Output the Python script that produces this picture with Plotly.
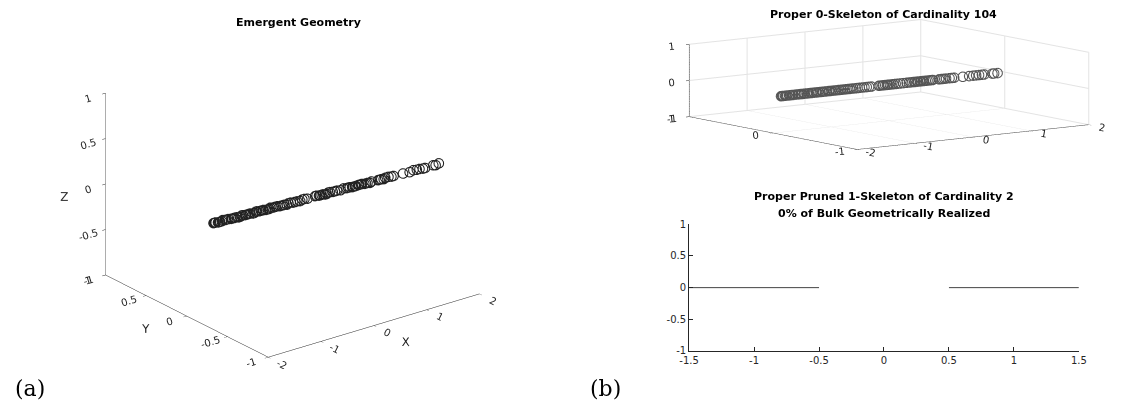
import math
import plotly.graph_objects as go

# ---------------- data ----------------
# x-coordinates of the 104 vertices (0-skeleton)
x_pts = [-1.87, -1.85, -1.83, -1.80, -1.78, -1.76, -1.73, -1.71, -1.68, -1.66,
         -1.62, -1.58, -1.56, -1.53, -1.51, -1.48, -1.46, -1.43, -1.40, -1.38,
         -1.35, -1.33, -1.30, -1.27, -1.25, -1.22, -1.19, -1.16, -1.14, -1.11,
         -1.08, -1.05, -1.03, -1.00, -0.97, -0.94, -0.92, -0.89, -0.86, -0.83,
         -0.80, -0.77, -0.74, -0.71, -0.68, -0.65, -0.62, -0.58, -0.55, -0.51,
         -0.47, -0.43, -0.39, -0.35, -0.31,
         -0.18, -0.15, -0.12, -0.10, -0.07, -0.04, -0.02, 0.01, 0.04, 0.07,
         0.11, 0.15, 0.19, 0.24, 0.30, 0.34, 0.37, 0.40, 0.43, 0.45,
         0.48, 0.50, 0.53, 0.55, 0.58, 0.60, 0.63, 0.66, 0.69, 0.72, 0.75,
         0.86, 0.89, 0.92, 0.95, 0.98, 1.04, 1.08, 1.12,
         1.27, 1.38, 1.45, 1.50, 1.55, 1.60, 1.64,
         1.78, 1.81, 1.87]

# emergent geometry (panel a): y and z coordinates of the same vertices
y_emg = [-0.24, -0.24, -0.24, -0.25, -0.25, -0.25, -0.25, -0.25, -0.26, -0.26,
         -0.26, -0.27, -0.27, -0.27, -0.27, -0.27, -0.28, -0.28, -0.28, -0.28,
         -0.29, -0.29, -0.29, -0.29, -0.29, -0.30, -0.30, -0.30, -0.30, -0.31,
         -0.31, -0.31, -0.31, -0.32, -0.32, -0.32, -0.32, -0.33, -0.33, -0.33,
         -0.33, -0.34, -0.34, -0.34, -0.34, -0.35, -0.35, -0.35, -0.36, -0.36,
         -0.36, -0.37, -0.37, -0.37, -0.38,
         -0.39, -0.39, -0.40, -0.40, -0.40, -0.40, -0.41, -0.41, -0.41, -0.41,
         -0.42, -0.42, -0.42, -0.43, -0.43, -0.44, -0.44, -0.44, -0.45, -0.45,
         -0.45, -0.45, -0.46, -0.46, -0.46, -0.46, -0.47, -0.47, -0.47, -0.48, -0.48,
         -0.49, -0.49, -0.49, -0.50, -0.50, -0.50, -0.51, -0.51,
         -0.53, -0.54, -0.54, -0.55, -0.55, -0.56, -0.56,
         -0.57, -0.58, -0.58]
z_emg = [0.11, 0.11, 0.11, 0.11, 0.11, 0.11, 0.11, 0.12, 0.12, 0.12,
         0.12, 0.12, 0.12, 0.12, 0.12, 0.12, 0.12, 0.12, 0.13, 0.13,
         0.13, 0.13, 0.13, 0.13, 0.13, 0.13, 0.13, 0.14, 0.14, 0.14,
         0.14, 0.14, 0.14, 0.14, 0.14, 0.14, 0.15, 0.15, 0.15, 0.15,
         0.15, 0.15, 0.15, 0.15, 0.15, 0.15, 0.16, 0.16, 0.16, 0.16,
         0.16, 0.16, 0.17, 0.17, 0.17,
         0.18, 0.18, 0.18, 0.18, 0.18, 0.18, 0.18, 0.18, 0.19, 0.19,
         0.19, 0.19, 0.19, 0.19, 0.20, 0.20, 0.20, 0.20, 0.20, 0.20,
         0.20, 0.20, 0.21, 0.21, 0.21, 0.21, 0.21, 0.21, 0.21, 0.21, 0.22,
         0.22, 0.22, 0.22, 0.22, 0.23, 0.23, 0.23, 0.23,
         0.24, 0.24, 0.25, 0.25, 0.25, 0.25, 0.25,
         0.26, 0.26, 0.27]

# proper 0-skeleton (panel b top): vertices lie on the x-axis
y_skel = [0.0] * len(x_pts)
z_skel = [0.0] * len(x_pts)

# proper pruned 1-skeleton: two edges
edge1_x = [-1.5, -0.5]
edge1_y = [0.0, 0.0]
edge2_x = [0.5, 1.5]
edge2_y = [0.0, 0.0]

# tick values / labels
ticks_x3 = [-2, -1, 0, 1, 2]
ticks_half = [-1, -0.5, 0, 0.5, 1]
ticks_unit = [-1, 0, 1]
ticks_x2 = [-1.5, -1, -0.5, 0, 0.5, 1, 1.5]

# ---------------- styling ----------------
W, H = 1141, 415
TXT = "#262626"
FONT = "DejaVu Sans"


def lab(v):
    return ("%g" % v)


def eye(az_deg, el_deg, r):
    az, el = math.radians(az_deg), math.radians(el_deg)
    return dict(x=r * math.sin(az) * math.cos(el),
                y=-r * math.cos(az) * math.cos(el),
                z=r * math.sin(el))


def ax3(rng, tv, title, grid):
    return dict(range=rng, tickvals=tv, ticktext=[lab(v) for v in tv],
                autorange=False,
                title=dict(text=title, font=dict(family=FONT, size=12, color=TXT)),
                showbackground=False, showgrid=grid, gridcolor="#e3e3e3",
                zeroline=False, showline=True, linecolor="#262626", linewidth=1,
                ticks="inside", ticklen=4, tickcolor="#262626",
                tickfont=dict(family=FONT, size=11, color=TXT),
                showspikes=False)


fig = go.Figure()

fig.add_trace(go.Scatter3d(
    x=x_pts, y=y_emg, z=z_emg, mode="markers", scene="scene",
    marker=dict(symbol="circle-open", size=6, color="#222222"),
    showlegend=False, hoverinfo="skip"))

fig.add_trace(go.Scatter3d(
    x=x_pts, y=y_skel, z=z_skel, mode="markers", scene="scene2",
    marker=dict(symbol="circle-open", size=6, color="#555555"),
    showlegend=False, hoverinfo="skip"))

for ex, ey in [(edge1_x, edge1_y), (edge2_x, edge2_y)]:
    fig.add_trace(go.Scatter(x=ex, y=ey, mode="lines", xaxis="x", yaxis="y",
                             line=dict(color="#444444", width=1),
                             showlegend=False, hoverinfo="skip"))

ax2 = dict(showgrid=False, zeroline=False, showline=True,
           linecolor="#262626", linewidth=1, ticks="inside", ticklen=4,
           tickcolor="#262626", tickfont=dict(family=FONT, size=10, color=TXT))

SA = 1.52   # panel (a) zoom
SB = 3.67   # panel (b) zoom

fig.update_layout(
    width=W, height=H, margin=dict(l=0, r=0, t=0, b=0),
    paper_bgcolor="white", plot_bgcolor="white",
    scene=dict(
        domain=dict(x=[0.0035, 0.4995], y=[0.100, 0.970]),
        xaxis=ax3([-2, 2], ticks_x3, "X", False),
        yaxis=ax3([-1, 1], ticks_half, "Y", False),
        zaxis=ax3([-1, 1], ticks_half, "Z", False),
        aspectmode="manual", aspectratio=dict(x=SA, y=SA, z=0.74 * SA),
        camera=dict(eye=eye(-37.6, 22.9, 8), up=dict(x=0, y=0, z=1),
                    center=dict(x=0, y=0, z=0),
                    projection=dict(type="orthographic")),
    ),
    scene2=dict(
        domain=dict(x=[0.5652, 1.0], y=[0.612, 1.0]),
        xaxis=ax3([-2, 2], ticks_x3, "", True),
        yaxis=ax3([-1, 1], ticks_unit, "", True),
        zaxis=ax3([-1, 1], ticks_unit, "", True),
        aspectmode="manual", aspectratio=dict(x=SB, y=0.98 * SB, z=0.254 * SB),
        camera=dict(eye=eye(-36.5, 8.3, 8), up=dict(x=0, y=0, z=1),
                    center=dict(x=0, y=0, z=0),
                    projection=dict(type="orthographic")),
    ),
    xaxis=dict(domain=[690 / W, 1086 / W], range=[-1.5, 1.5],
               tickvals=ticks_x2, ticktext=[lab(v) for v in ticks_x2],
               anchor="y", **ax2),
    yaxis=dict(domain=[1 - 354.3 / H, 1 - 224.3 / H], range=[-1, 1],
               tickvals=ticks_half, ticktext=[lab(v) for v in ticks_half],
               anchor="x", **ax2),
)

titles = [
    ("Emergent Geometry", 293, 17),
    ("Proper 0-Skeleton of Cardinality 104", 887, 9),
    ("Proper Pruned 1-Skeleton of Cardinality 2", 888, 196),
    ("0% of Bulk Geometrically Realized", 888, 213),
]
for text, px, py in titles:
    fig.add_annotation(text="<b>%s</b>" % text, x=px / W, y=1 - py / H,
                       xref="paper", yref="paper", showarrow=False,
                       xanchor="center", yanchor="middle",
                       font=dict(family=FONT, size=11, color="#000000"))

for text, px, py in [("(a)", 20, 393), ("(b)", 605, 393)]:
    fig.add_annotation(text=text, x=px / W, y=1 - py / H, xref="paper",
                       yref="paper", showarrow=False, xanchor="center",
                       yanchor="middle",
                       font=dict(family="DejaVu Serif", size=22, color="#000000"))

fig.write_html("out.html")
